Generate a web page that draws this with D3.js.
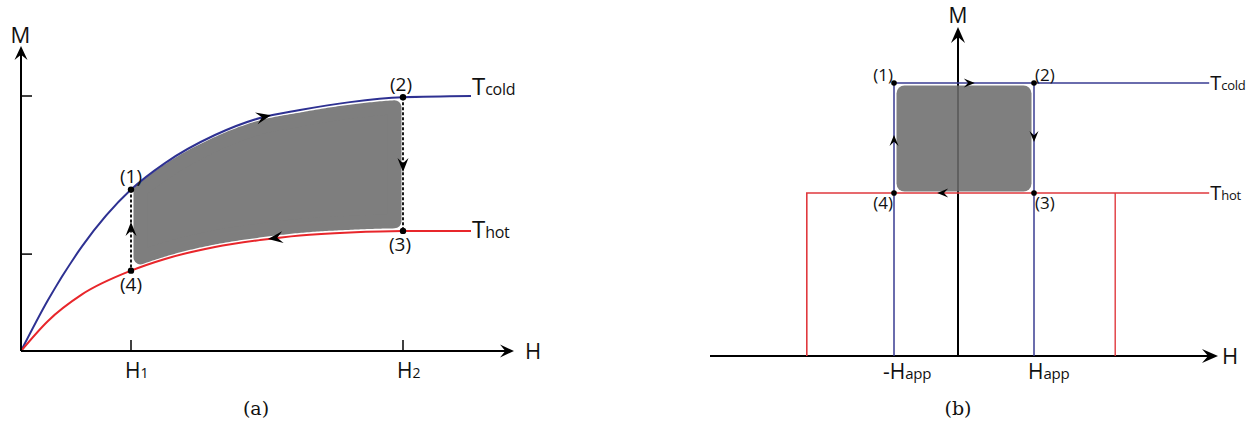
<!DOCTYPE html>
<html>
<head>
<meta charset="utf-8">
<script src="https://cdn.jsdelivr.net/npm/d3@7"></script>
<style>
  html, body { margin: 0; padding: 0; background: #fff; }
  svg { display: block; }
  text { font-family: "Open Sans", "Noto Sans", sans-serif; fill: #111; }
  .cap { font-family: "DejaVu Serif", "Liberation Serif", serif; }
</style>
</head>
<body>
<svg id="chart" width="1249" height="428"></svg>
<script>
// ---------------- DATA ----------------
// Panel (a): magnetisation curves M(H) at two temperatures
const hA      = [0, 0.27, 0.61, 1.10, 1.44, 1.94, 2.39, 2.79, 3.29, 3.82, 4.50];
const mColdA  = [0, 0.20, 0.41, 0.633, 0.737, 0.847, 0.914, 0.945, 0.976, 0.995, 1.0];
const mHotA   = [0, 0.118, 0.222, 0.315, 0.361, 0.408, 0.435, 0.453, 0.465, 0.471, 0.471];
const cycleH_A = [1.10, 3.82];            // H1, H2
const tickM_A  = [0.38, 1.0];
const tickLabelsA = [["H", "1"], ["H", "2"]];
const curveLabels = [["T", "cold"], ["T", "hot"]];
const pointLabels = ["(1)", "(2)", "(3)", "(4)"];

// Panel (b): ideal square loops
const hAppB  = [-1.6, 1.9];               // -Happ, Happ
const hHotB  = [-3.78, 3.93];             // hot loop switching fields
const mColdB = 1.0;
const mHotB  = 0.597;
const hEndB  = 6.28;
const tickLabelsB = [["-H", "app"], ["H", "app"]];
const captions = ["(a)", "(b)"];

// ---------------- SETUP ----------------
const svg = d3.select("#chart");
const BLUE_A = "#2e3192", RED_A = "#e8262b";
const BLUE_B = "#3a3d92", RED_B = "#e0393e";
const GRAY = "#6d6d6d";

function arrowHead(g, x, y, angle, L, W) {
  g.append("path")
    .attr("d", `M0,0 L${-L},${-W} L${-L * 0.62},0 L${-L},${W} Z`)
    .attr("transform", `translate(${x},${y}) rotate(${angle})`)
    .attr("fill", "#000");
}
function pointAtX(node, x) {
  let lo = 0, hi = node.getTotalLength();
  for (let i = 0; i < 40; i++) {
    const mid = (lo + hi) / 2;
    if (node.getPointAtLength(mid).x < x) lo = mid; else hi = mid;
  }
  return { len: (lo + hi) / 2, p: node.getPointAtLength((lo + hi) / 2) };
}
function subText(g, x, y, main, sub, fsMain, fsSub, anchor) {
  const t = g.append("text").attr("x", x).attr("y", y).attr("text-anchor", anchor || "start");
  t.append("tspan").attr("font-size", fsMain).text(main);
  t.append("tspan").attr("font-size", fsSub).attr("letter-spacing", -0.3).text(sub);
  return t;
}

// ---------------- PANEL A ----------------
const ga = svg.append("g");
const xa = d3.scaleLinear().domain([0, 5]).range([21, 521]);
const ya = d3.scaleLinear().domain([0, 1]).range([351, 96]);
const line = d3.line().x(d => xa(d[0])).y(d => ya(d[1])).curve(d3.curveMonotoneX);
const coldPts = hA.map((h, i) => [h, mColdA[i]]);
const hotPts  = hA.map((h, i) => [h, mHotA[i]]);

const helper = ga.append("g").attr("visibility", "hidden");
const coldNode = helper.append("path").attr("d", line(coldPts)).node();
const hotNode  = helper.append("path").attr("d", line(hotPts)).node();

// shaded cycle area (rounded)
{
  const r = 7, gap = 2.6;
  const L = xa(cycleH_A[0]) + 2.5 + r, R = xa(cycleH_A[1]) - 1 - r;
  const top = [], bot = [];
  for (let x = L; x <= R + 0.01; x += 2) {
    top.push([x, pointAtX(coldNode, x).p.y + gap + r]);
    bot.push([x, pointAtX(hotNode, x).p.y - gap - r]);
  }
  const pts = top.concat(bot.reverse());
  ga.append("g").attr("opacity", 0.88)
    .append("path")
    .attr("d", "M" + pts.map(p => p.join(",")).join("L") + "Z")
    .attr("fill", GRAY).attr("stroke", GRAY)
    .attr("stroke-width", 2 * r).attr("stroke-linejoin", "round");
}

ga.append("path").attr("d", line(coldPts)).attr("fill", "none").attr("stroke", BLUE_A).attr("stroke-width", 2);
ga.append("path").attr("d", line(hotPts)).attr("fill", "none").attr("stroke", RED_A).attr("stroke-width", 2);

const p1 = [xa(cycleH_A[0]), ya(mColdA[3])], p4 = [xa(cycleH_A[0]), ya(mHotA[3])];
const p2 = [xa(cycleH_A[1]), ya(mColdA[9])], p3 = [xa(cycleH_A[1]), ya(mHotA[9])];
[[p1, p4], [p2, p3]].forEach(([a, b]) => {
  ga.append("line").attr("x1", a[0]).attr("y1", a[1]).attr("x2", b[0]).attr("y2", b[1])
    .attr("stroke", "#000").attr("stroke-width", 1.8).attr("stroke-dasharray", "3,2");
});
[p1, p2, p3, p4].forEach(p => ga.append("circle").attr("cx", p[0]).attr("cy", p[1]).attr("r", 3.2).attr("fill", "#000"));

{
  const c = pointAtX(coldNode, 271);
  const c0 = coldNode.getPointAtLength(c.len - 3);
  const angC = Math.atan2(c.p.y - c0.y, c.p.x - c0.x) * 180 / Math.PI;
  arrowHead(ga, c.p.x, c.p.y, angC, 15, 6);
  const h = pointAtX(hotNode, 268);
  const h0 = hotNode.getPointAtLength(h.len + 3);
  const angH = Math.atan2(h.p.y - h0.y, h.p.x - h0.x) * 180 / Math.PI;
  arrowHead(ga, h.p.x, h.p.y, angH, 15, 6);
  arrowHead(ga, p2[0], 172, 90, 14, 5.5);
  arrowHead(ga, p1[0], 222, -90, 14, 5.5);
}

ga.append("text").attr("x", p1[0]).attr("y", 183).attr("text-anchor", "middle").attr("font-size", 19).text(pointLabels[0]);
ga.append("text").attr("x", p2[0] - 2).attr("y", 91).attr("text-anchor", "middle").attr("font-size", 19).text(pointLabels[1]);
ga.append("text").attr("x", p3[0] - 3).attr("y", 251).attr("text-anchor", "middle").attr("font-size", 19).text(pointLabels[2]);
ga.append("text").attr("x", p4[0]).attr("y", 291).attr("text-anchor", "middle").attr("font-size", 19).text(pointLabels[3]);

subText(ga, xa(hA[hA.length - 1]) + 1, ya(mColdA[mColdA.length - 1]) - 1, curveLabels[0][0], curveLabels[0][1], 24, 16);
subText(ga, xa(hA[hA.length - 1]) + 1, ya(mHotA[mHotA.length - 1]) + 7, curveLabels[1][0], curveLabels[1][1], 24, 16);

const x0a = xa(0), y0a = ya(0);
ga.append("line").attr("x1", x0a).attr("y1", y0a).attr("x2", xa(4.88)).attr("y2", y0a).attr("stroke", "#000").attr("stroke-width", 2);
arrowHead(ga, xa(4.93), y0a, 0, 14, 6.5);
ga.append("line").attr("x1", x0a).attr("y1", y0a).attr("x2", x0a).attr("y2", ya(1.17)).attr("stroke", "#000").attr("stroke-width", 2);
arrowHead(ga, x0a, ya(1.196), -90, 14, 6.5);
tickM_A.forEach(m => ga.append("line").attr("x1", x0a).attr("x2", x0a + 11).attr("y1", ya(m)).attr("y2", ya(m)).attr("stroke", "#000").attr("stroke-width", 1.5));
cycleH_A.forEach((h, i) => {
  ga.append("line").attr("x1", xa(h)).attr("x2", xa(h)).attr("y1", y0a).attr("y2", y0a - 11).attr("stroke", "#000").attr("stroke-width", 1.5);
  subText(ga, xa(h) - 6, 378, tickLabelsA[i][0], tickLabelsA[i][1], 21, 14);
});
ga.append("text").attr("x", 20.5).attr("y", 43).attr("text-anchor", "middle").attr("font-size", 22).text("M");
ga.append("text").attr("x", 533).attr("y", 359).attr("text-anchor", "middle").attr("font-size", 22).text("H");

// ---------------- PANEL B ----------------
const gb = svg.append("g");
const xb = d3.scaleLinear().domain([-6, 6]).range([718, 1198]);
const yb = d3.scaleLinear().domain([0, 1]).range([356, 83]);

gb.append("line").attr("x1", xb(-6.2)).attr("x2", xb(6.38)).attr("y1", yb(0)).attr("y2", yb(0)).attr("stroke", "#000").attr("stroke-width", 2);
arrowHead(gb, xb(6.5), yb(0), 0, 16, 7);
gb.append("line").attr("x1", xb(0)).attr("x2", xb(0)).attr("y1", yb(0)).attr("y2", yb(1.17)).attr("stroke", "#000").attr("stroke-width", 2);
arrowHead(gb, xb(0), yb(1.205), -90, 16, 7);

gb.append("g").attr("opacity", 0.88).append("rect")
  .attr("x", xb(hAppB[0]) + 2.5).attr("y", yb(mColdB) + 2.5)
  .attr("width", xb(hAppB[1]) - xb(hAppB[0]) - 5).attr("height", yb(mHotB) - yb(mColdB) - 4)
  .attr("rx", 8).attr("fill", GRAY);

const lineB = d3.line().x(d => xb(d[0])).y(d => yb(d[1]));
gb.append("path").attr("d", lineB([[hHotB[0], 0], [hHotB[0], mHotB], [hEndB, mHotB]])).attr("fill", "none").attr("stroke", RED_B).attr("stroke-width", 1.6);
gb.append("path").attr("d", lineB([[hHotB[1], mHotB], [hHotB[1], 0]])).attr("fill", "none").attr("stroke", RED_B).attr("stroke-width", 1.4);
gb.append("path").attr("d", lineB([[hAppB[0], 0], [hAppB[0], mColdB], [hEndB, mColdB]])).attr("fill", "none").attr("stroke", BLUE_B).attr("stroke-width", 1.5);
gb.append("path").attr("d", lineB([[hAppB[1], mColdB], [hAppB[1], 0]])).attr("fill", "none").attr("stroke", BLUE_B).attr("stroke-width", 1.5);

const q1 = [xb(hAppB[0]), yb(mColdB)], q2 = [xb(hAppB[1]), yb(mColdB)];
const q3 = [xb(hAppB[1]), yb(mHotB)],  q4 = [xb(hAppB[0]), yb(mHotB)];
[q1, q2, q3, q4].forEach(p => gb.append("circle").attr("cx", p[0]).attr("cy", p[1]).attr("r", 2.8).attr("fill", "#000"));
arrowHead(gb, xb(0.42), yb(mColdB), 0, 11, 4.5);
arrowHead(gb, q2[0], 142, 90, 11, 4.5);
arrowHead(gb, xb(-0.52), yb(mHotB), 180, 11, 4.5);
arrowHead(gb, q1[0], 135, -90, 11, 4.5);

gb.append("text").attr("x", q1[0] - 1).attr("y", 81).attr("text-anchor", "end").attr("font-size", 17).text(pointLabels[0]);
gb.append("text").attr("x", q2[0] + 1).attr("y", 81).attr("text-anchor", "start").attr("font-size", 17).text(pointLabels[1]);
gb.append("text").attr("x", q3[0] + 1).attr("y", 209).attr("text-anchor", "start").attr("font-size", 17).text(pointLabels[2]);
gb.append("text").attr("x", q4[0] - 1).attr("y", 209).attr("text-anchor", "end").attr("font-size", 17).text(pointLabels[3]);

subText(gb, xb(hEndB) + 1, yb(mColdB) + 7, curveLabels[0][0], curveLabels[0][1], 20, 13);
subText(gb, xb(hEndB) + 1, yb(mHotB) + 7, curveLabels[1][0], curveLabels[1][1], 20, 13);
subText(gb, xb(hAppB[0]) - 11, 379, tickLabelsB[0][0], tickLabelsB[0][1], 21, 15);
subText(gb, xb(hAppB[1]) - 6, 379, tickLabelsB[1][0], tickLabelsB[1][1], 21, 15);
gb.append("text").attr("x", xb(0)).attr("y", 23).attr("text-anchor", "middle").attr("font-size", 21).text("M");
gb.append("text").attr("x", 1230).attr("y", 364).attr("text-anchor", "middle").attr("font-size", 22).text("H");

svg.append("text").attr("class", "cap").attr("x", 256).attr("y", 415).attr("text-anchor", "middle").attr("font-size", 19).text(captions[0]);
svg.append("text").attr("class", "cap").attr("x", 958).attr("y", 415).attr("text-anchor", "middle").attr("font-size", 19).text(captions[1]);
</script>
</body>
</html>
